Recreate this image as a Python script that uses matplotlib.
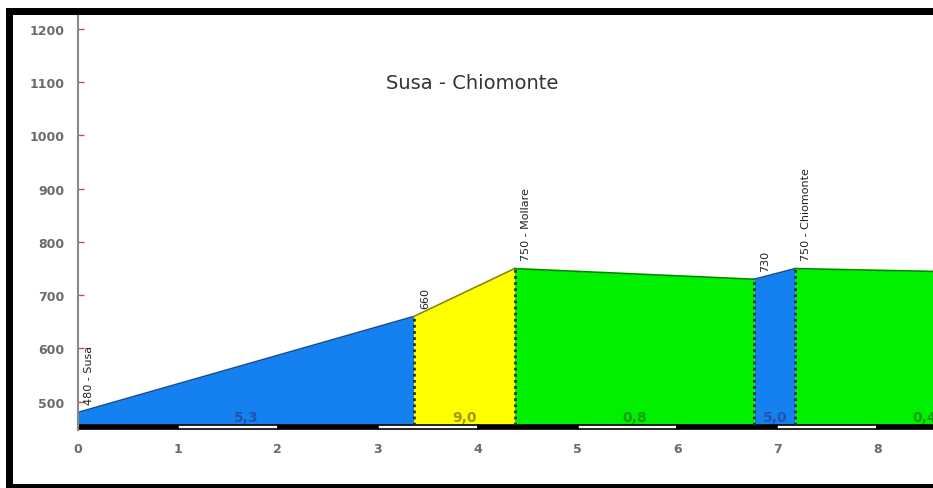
import matplotlib
matplotlib.use("Agg")
import matplotlib.pyplot as plt
from matplotlib.patches import Rectangle

# profile points (km, m)
dist = [0, 3.36, 4.37, 6.77, 7.18, 9.78]
elev = [480, 660, 750, 730, 750, 740]
point_labels = ["480 - Susa", "660", "750 - Mollare", "730", "750 - Chiomonte", ""]
grades = ["5,3", "9,0", "0,8", "5,0", "0,4"]

fill_cols = ["#1580f0", "#ffff00", "#00f000", "#1580f0", "#00f000"]
line_cols = ["#1050a0", "#8a8a00", "#008a00", "#1050a0", "#008a00"]
text_cols = ["#1f55b0", "#9a9a10", "#10a010", "#1f55b0", "#10a010"]

yticks = [500, 600, 700, 800, 900, 1000, 1100, 1200]
xticks = [0, 1, 2, 3, 4, 5, 6, 7, 8]

base = 457
bar_bottom = 447

fig = plt.figure(figsize=(9.33, 4.89), dpi=100)
fig.patch.set_facecolor("white")
ax = fig.add_axes([78 / 933, 58 / 489, (933 - 78) / 933, (431 - 16) / 489])
ax.set_xlim(0, (933 - 78) / 99.9)
ax.set_ylim(bar_bottom, 1226)

# coloured segments
for i in range(len(dist) - 1):
    xs = [dist[i], dist[i + 1]]
    ys = [elev[i], elev[i + 1]]
    ax.fill_between(xs, base, ys, color=fill_cols[i], lw=0)
    ax.plot(xs, ys, color=line_cols[i], lw=1.2)
    mid = (dist[i] + dist[i + 1]) / 2
    ax.text(mid, base + 2, grades[i], ha="center", va="bottom", color=text_cols[i],
            fontsize=10, fontweight="bold")

# dotted dividers
for i in range(1, len(dist) - 1):
    ax.plot([dist[i], dist[i]], [base, elev[i]], color="#223322", lw=2, ls=(0, (1, 1.2)))

# point labels
for d, e, lab in zip(dist, elev, point_labels):
    if lab:
        ax.annotate(lab, xy=(d, e), xytext=(8, 6), textcoords="offset points",
                    rotation=90, ha="center", va="bottom", fontsize=8, color="#222222",
                    family=["Liberation Sans Narrow", "DejaVu Sans"])

# km scale bar
for k in range(0, 10):
    ax.add_patch(Rectangle((k, bar_bottom + 1.5), 1, base - bar_bottom - 3,
                           facecolor="black" if k % 2 == 0 else "white",
                           edgecolor="black", lw=1.2, clip_on=True))

ax.text(3.95, 1100, "Susa - Chiomonte", ha="center", va="center", fontsize=14, color="#333333")

ax.set_yticks(yticks)
ax.set_xticks(xticks)
ax.tick_params(axis="y", direction="in", length=4, width=1, color="#c05050",
               labelcolor="#6a6a6a", labelsize=9, pad=10)
ax.tick_params(axis="x", length=0, labelcolor="#6a6a6a", labelsize=9, pad=9)
for t in ax.get_xticklabels() + ax.get_yticklabels():
    t.set_fontweight("bold")
for s in ["top", "right", "bottom"]:
    ax.spines[s].set_visible(False)
ax.spines["left"].set_color("#888888")
ax.spines["left"].set_linewidth(1.5)

# black frame around the picture (right side cut off)
H = 489.0
W = 933.0
fig.add_artist(Rectangle((6 / W, (H - 16) / H), 1, 7 / H, transform=fig.transFigure,
                         facecolor="black", edgecolor="none"))
fig.add_artist(Rectangle((6 / W, 0), 7 / W, (H - 9) / H, transform=fig.transFigure,
                         facecolor="black", edgecolor="none"))
fig.add_artist(Rectangle((6 / W, 0), 1, 4 / H, transform=fig.transFigure,
                         facecolor="black", edgecolor="none"))

fig.savefig("out.png", dpi=100)
